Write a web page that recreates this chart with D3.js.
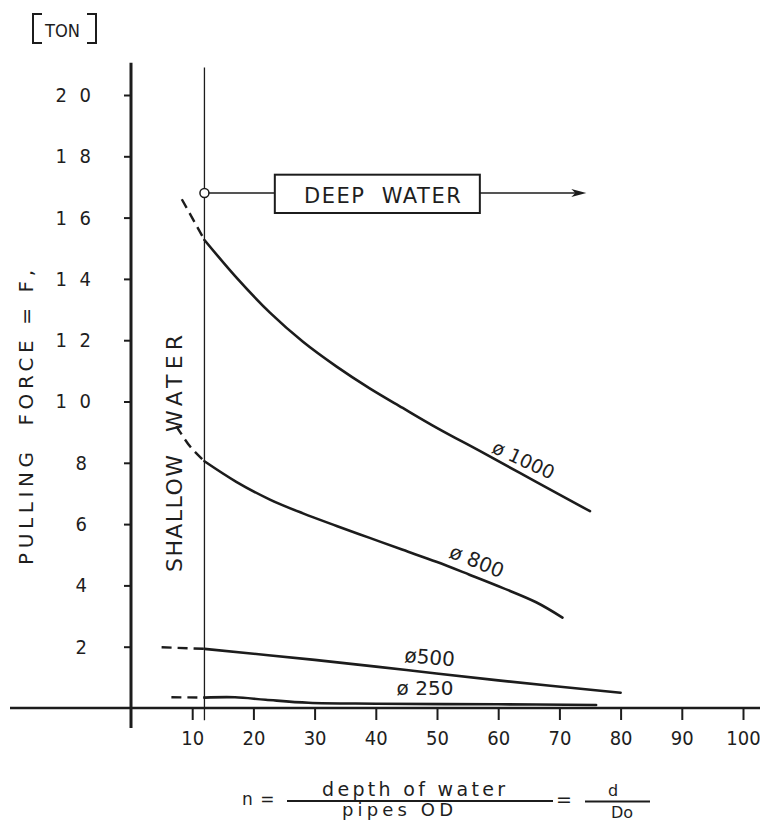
<!DOCTYPE html>
<html>
<head>
<meta charset="utf-8">
<script src="https://cdn.jsdelivr.net/npm/d3@7"></script>
<style>
  body { margin: 0; background: #fff; }
  svg { display: block; }
  text { font-family: 'DejaVu Sans', sans-serif; fill: #1e1e1e; }
  .cond { font-family: 'DejaVu Sans Condensed', 'DejaVu Sans', sans-serif; }
</style>
</head>
<body>
<div class="chart"></div>
<script>
/*
x -> n = depth of water / pipes OD
y -> pulling force F, in ton
*/
var xTicks = [10, 20, 30, 40, 50, 60, 70, 80, 90, 100];
var yTicks = [2, 4, 6, 8, 10, 12, 14, 16, 18, 20];

// border between shallow and deep water (n)
var shallowLimit = 12;

// pipe labels
var pipeLabels = ['\u00f8 1000', '\u00f8 800', '\u00f8500', '\u00f8 250'];

// solid parts of the curves (deep water)
var n1000 = [12, 17.2, 22.7, 28.1, 33.6, 39, 44.4, 49.9, 57.5, 66.2, 75];
var f1000 = [15.27, 14.05, 12.9, 11.95, 11.14, 10.43, 9.79, 9.15, 8.33, 7.38, 6.42];
var n800 = [12, 17.2, 22.7, 28.1, 33.6, 39, 44.4, 49.9, 55.3, 60.7, 66.2, 70.5];
var f800 = [8.05, 7.38, 6.8, 6.35, 5.94, 5.55, 5.16, 4.77, 4.35, 3.92, 3.45, 2.95];
var n500 = [12, 30, 45, 60, 80];
var f500 = [1.93, 1.57, 1.24, 0.9, 0.5];
var n250 = [12, 17, 22, 29, 40, 60, 76];
var f250 = [0.34, 0.35, 0.27, 0.17, 0.14, 0.12, 0.1];

// dashed parts (extrapolated into shallow water)
var n1000Dash = [8.3, 12];
var f1000Dash = [16.6, 15.27];
var n800Dash = [7.4, 9.7, 12];
var f800Dash = [9.2, 8.52, 8.05];
var n500Dash = [5, 12];
var f500Dash = [1.98, 1.93];
var n250Dash = [6.6, 12];
var f250Dash = [0.35, 0.34];

// deep water arrow
var deepForce = 16.8;
var deepArrowEnd = 74.4;

// [n], [F] -> Array-of-{ n, f }
function toPoints(ns, fs){
    return ns.map((n, i) => {
        return { n: n, f: fs[i] };
    });
}

var curves = [
    { label: pipeLabels[0], solid: toPoints(n1000, f1000), dash: toPoints(n1000Dash, f1000Dash) },
    { label: pipeLabels[1], solid: toPoints(n800, f800), dash: toPoints(n800Dash, f800Dash) },
    { label: pipeLabels[2], solid: toPoints(n500, f500), dash: toPoints(n500Dash, f500Dash) },
    { label: pipeLabels[3], solid: toPoints(n250, f250), dash: toPoints(n250Dash, f250Dash) }
];

// where each label sits (data units) and its tilt
var labelPos = [
    { n: 58.8, f: 8.35, rot: 25, size: 19 },
    { n: 51.8, f: 4.93, rot: 22, size: 20 },
    { n: 44.6, f: 1.5, rot: 5, size: 20 },
    { n: 43.4, f: 0.42, rot: 0, size: 20 }
];

/*-------------------------------------------------------*/
var width = 760;
var height = 822;
var ink = '#1c1c1c';

var x = d3.scaleLinear()
    .domain([0, 100])
    .range([131, 743]);
var y = d3.scaleLinear()
    .domain([0, 20])
    .range([708, 95]);

var svg = d3.select('.chart').append('svg')
    .attr('width', width)
    .attr('height', height);

// x axis: a long rule across the page
svg.append('line')
    .attr('x1', 10)
    .attr('x2', width)
    .attr('y1', y(0))
    .attr('y2', y(0))
    .attr('stroke', ink)
    .attr('stroke-width', 2.5);

var xAxis = svg.append('g')
    .attr('transform', `translate(0, ${y(0)})`)
    .call(d3.axisBottom(x).tickValues(xTicks).tickSize(12).tickPadding(11));
xAxis.select('.domain').remove();
xAxis.selectAll('line').attr('stroke', ink).attr('stroke-width', 2);
xAxis.selectAll('text')
    .attr('class', 'cond')
    .style('font-size', '20px')
    .attr('fill', ink);

// y axis
svg.append('line')
    .attr('x1', x(0))
    .attr('x2', x(0))
    .attr('y1', y(21.05))
    .attr('y2', y(-0.65))
    .attr('stroke', ink)
    .attr('stroke-width', 3);

var yAxis = svg.append('g')
    .attr('transform', `translate(${x(0)}, 0)`)
    .call(d3.axisLeft(y)
        .tickValues(yTicks)
        .tickSize(7)
        .tickPadding(33)
        .tickFormat((d) => { return String(d).split('').join('\u2002\u2009'); }));
yAxis.select('.domain').remove();
yAxis.selectAll('line').attr('stroke', ink).attr('stroke-width', 2);
yAxis.selectAll('text')
    .attr('class', 'cond')
    .style('font-size', '20px')
    .attr('fill', ink)
    .attr('dx', (d) => { return d < 10 ? -4 : 0; });

// shallow / deep water border
svg.append('line')
    .attr('x1', x(shallowLimit))
    .attr('x2', x(shallowLimit))
    .attr('y1', y(20.9))
    .attr('y2', y(-0.4))
    .attr('stroke', ink)
    .attr('stroke-width', 1.3);

// curves
var line = d3.line()
    .x((d) => { return x(d.n); })
    .y((d) => { return y(d.f); })
    .curve(d3.curveCatmullRom.alpha(0.5));

svg.selectAll('.solid')
    .data(curves)
    .enter().append('path')
    .attr('class', 'solid')
    .attr('d', (d) => { return line(d.solid); })
    .attr('fill', 'none')
    .attr('stroke', ink)
    .attr('stroke-width', 2.6)
    .attr('stroke-linecap', 'round');

svg.selectAll('.dash')
    .data(curves)
    .enter().append('path')
    .attr('class', 'dash')
    .attr('d', (d) => { return line(d.dash); })
    .attr('fill', 'none')
    .attr('stroke', ink)
    .attr('stroke-width', 2.4)
    .attr('stroke-dasharray', '10,6');

// pipe labels
svg.selectAll('.plabel')
    .data(curves)
    .enter().append('text')
    .attr('class', 'plabel')
    .attr('transform', (d, i) => {
        var p = labelPos[i];
        return `translate(${x(p.n)}, ${y(p.f)}) rotate(${p.rot})`;
    })
    .style('font-size', (d, i) => { return labelPos[i].size + 'px'; })
    .text((d) => { return d.label; });

/**** deep water marker ****/
var dy = y(deepForce);
svg.append('circle')
    .attr('cx', x(shallowLimit))
    .attr('cy', dy)
    .attr('r', 4.5)
    .attr('fill', '#fff')
    .attr('stroke', ink)
    .attr('stroke-width', 1.5);

svg.append('line')
    .attr('x1', x(shallowLimit) + 4.5)
    .attr('x2', x(23.5))
    .attr('y1', dy)
    .attr('y2', dy)
    .attr('stroke', ink)
    .attr('stroke-width', 1.5);

svg.append('rect')
    .attr('x', x(23.5))
    .attr('y', y(17.4))
    .attr('width', x(57) - x(23.5))
    .attr('height', y(16.15) - y(17.4))
    .attr('fill', 'none')
    .attr('stroke', ink)
    .attr('stroke-width', 2);

svg.append('text')
    .attr('x', x(41.2))
    .attr('y', dy + 10)
    .attr('text-anchor', 'middle')
    .style('font-size', '21px')
    .style('letter-spacing', '1.5px')
    .text('DEEP\u00a0\u00a0WATER');

svg.append('line')
    .attr('x1', x(57))
    .attr('x2', x(deepArrowEnd) - 10)
    .attr('y1', dy)
    .attr('y2', dy)
    .attr('stroke', ink)
    .attr('stroke-width', 1.5);

var tip = x(deepArrowEnd);
svg.append('path')
    .attr('d', `M${tip},${dy} L${tip - 15},${dy - 4} L${tip - 11},${dy} L${tip - 15},${dy + 4} Z`)
    .attr('fill', ink);

/**** texts ****/
// [TON]
svg.append('path')
    .attr('d', 'M42,14 H33 V43 H42 M87,14 H96 V43 H87')
    .attr('fill', 'none')
    .attr('stroke', ink)
    .attr('stroke-width', 2);
svg.append('text')
    .attr('x', 45)
    .attr('y', 37)
    .attr('textLength', 35)
    .attr('lengthAdjust', 'spacingAndGlyphs')
    .style('font-size', '18px')
    .text('TON');

// y title
svg.append('text')
    .attr('transform', 'translate(33, 565) rotate(-90)')
    .attr('textLength', 295)
    .attr('lengthAdjust', 'spacing')
    .style('font-size', '20px')
    .text('PULLING\u00a0\u00a0FORCE\u00a0=\u00a0F,');

// shallow water
svg.append('text')
    .attr('transform', 'translate(182, 572) rotate(-90)')
    .attr('textLength', 117)
    .attr('lengthAdjust', 'spacing')
    .style('font-size', '22px')
    .text('SHALLOW');
svg.append('text')
    .attr('transform', 'translate(182, 432) rotate(-90)')
    .attr('textLength', 97)
    .attr('lengthAdjust', 'spacing')
    .style('font-size', '22px')
    .text('WATER');

// x title: n = depth of water / pipes OD = d / Do
var xt = svg.append('g');
xt.append('text')
    .attr('x', 242).attr('y', 805)
    .style('font-size', '17px')
    .style('letter-spacing', '1px')
    .text('n =');
xt.append('text')
    .attr('x', 322).attr('y', 796)
    .attr('textLength', 183)
    .attr('lengthAdjust', 'spacing')
    .style('font-size', '19px')
    .text('depth of water');
xt.append('line')
    .attr('x1', 287).attr('x2', 553)
    .attr('y1', 801).attr('y2', 801)
    .attr('stroke', ink).attr('stroke-width', 2);
xt.append('text')
    .attr('x', 342).attr('y', 816)
    .attr('textLength', 111)
    .attr('lengthAdjust', 'spacing')
    .style('font-size', '18px')
    .text('pipes OD');
xt.append('text')
    .attr('x', 556).attr('y', 806)
    .style('font-size', '19px')
    .text('=');
xt.append('line')
    .attr('x1', 585).attr('x2', 650)
    .attr('y1', 801.5).attr('y2', 801.5)
    .attr('stroke', ink).attr('stroke-width', 2);
xt.append('text')
    .attr('x', 613).attr('y', 796)
    .attr('text-anchor', 'middle')
    .style('font-size', '16px')
    .text('d');
xt.append('text')
    .attr('x', 622).attr('y', 818)
    .attr('text-anchor', 'middle')
    .style('font-size', '16px')
    .text('Do');
</script>
</body>
</html>
